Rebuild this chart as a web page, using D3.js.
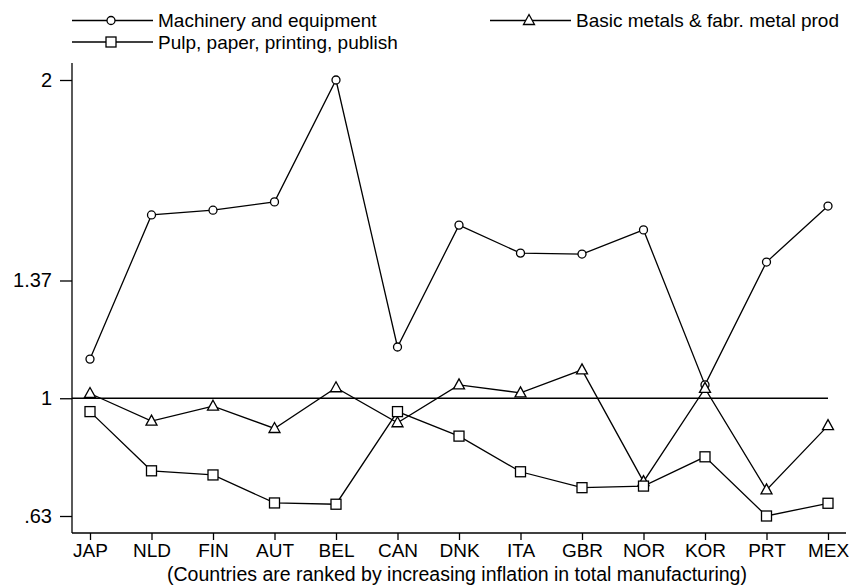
<!DOCTYPE html>
<html>
<head>
<meta charset="utf-8">
<script src="https://cdn.jsdelivr.net/npm/d3@7"></script>
<style>
  body { margin: 0; background: #fff; }
  text { font-family: "Liberation Sans", Arial, sans-serif; fill: #000; }
</style>
</head>
<body>
<div id="chart"></div>
<script>
// countries, ranked by increasing inflation in total manufacturing
var countries = ["JAP", "NLD", "FIN", "AUT", "BEL", "CAN", "DNK", "ITA", "GBR", "NOR", "KOR", "PRT", "MEX"];
var machinery = [1.123, 1.576, 1.591, 1.617, 2.0, 1.161, 1.544, 1.456, 1.453, 1.529, 1.042, 1.428, 1.604];
var basicMetals = [1.015, 0.928, 0.975, 0.905, 1.033, 0.923, 1.042, 1.017, 1.089, 0.738, 1.031, 0.712, 0.914];
var pulpPaper = [0.958, 0.772, 0.759, 0.671, 0.667, 0.958, 0.881, 0.769, 0.719, 0.724, 0.816, 0.630, 0.670];
var yTicks = [0.63, 1, 1.37, 2];
var yTickLabels = [".63", "1", "1.37", "2"];
var caption = "(Countries are ranked by increasing inflation in total manufacturing)";

var series = [
  { name: "Machinery and equipment", values: machinery, symbol: "circle" },
  { name: "Basic metals & fabr. metal prod", values: basicMetals, symbol: "triangle" },
  { name: "Pulp, paper, printing, publish", values: pulpPaper, symbol: "square" }
];

var svgWidth = 852, svgHeight = 585;
var margin = { top: 63, right: 6, bottom: 52, left: 72 };
var fontSize = 19.5;

var svg = d3.select("#chart").append("svg")
    .attr("width", svgWidth)
    .attr("height", svgHeight);

var x = d3.scalePoint()
    .domain(countries)
    .range([90, 828]);

var y = d3.scaleLinear()
    .domain([0.63, 2])
    .range([516, 80]);

// axes
svg.append("line")
    .attr("x1", margin.left).attr("x2", margin.left)
    .attr("y1", margin.top).attr("y2", svgHeight - margin.bottom)
    .attr("stroke", "#000").attr("stroke-width", 1.3);
svg.append("line")
    .attr("x1", margin.left).attr("x2", svgWidth - margin.right)
    .attr("y1", svgHeight - margin.bottom).attr("y2", svgHeight - margin.bottom)
    .attr("stroke", "#000").attr("stroke-width", 1.3);

var yAxis = d3.axisLeft(y)
    .tickValues(yTicks)
    .tickFormat(function(d, i) { return yTickLabels[i]; })
    .tickSize(12)
    .tickPadding(8);
var gy = svg.append("g")
    .attr("transform", "translate(" + margin.left + ",0)")
    .call(yAxis);
gy.select(".domain").remove();
gy.selectAll(".tick line").attr("stroke", "#000").attr("stroke-width", 1.3);
gy.selectAll(".tick text").attr("font-size", 20).attr("font-family", "Liberation Sans, Arial, sans-serif");

var xAxis = d3.axisBottom(x)
    .tickSize(7)
    .tickPadding(4);
var gx = svg.append("g")
    .attr("transform", "translate(0," + (svgHeight - margin.bottom) + ")")
    .call(xAxis);
gx.select(".domain").remove();
gx.selectAll(".tick line").attr("stroke", "#000").attr("stroke-width", 1.3);
gx.selectAll(".tick text").attr("font-size", 19).attr("font-family", "Liberation Sans, Arial, sans-serif");

svg.append("text")
    .attr("x", 457)
    .attr("y", 581)
    .attr("text-anchor", "middle")
    .attr("font-size", fontSize)
    .text(caption);

// reference line at 1
svg.append("line")
    .attr("x1", margin.left).attr("x2", x(countries[countries.length - 1]))
    .attr("y1", y(1)).attr("y2", y(1))
    .attr("stroke", "#000").attr("stroke-width", 1.3);

function drawSymbol(g, symbol, cx, cy) {
  if (symbol == "circle") {
    g.append("circle").attr("cx", cx).attr("cy", cy).attr("r", 4)
      .attr("fill", "#fff").attr("stroke", "#000").attr("stroke-width", 1.3);
  }
  if (symbol == "square") {
    g.append("rect").attr("x", cx - 5).attr("y", cy - 5).attr("width", 10).attr("height", 10)
      .attr("fill", "#fff").attr("stroke", "#000").attr("stroke-width", 1.3);
  }
  if (symbol == "triangle") {
    g.append("path")
      .attr("d", "M" + cx + "," + (cy - 6) + "L" + (cx + 5.5) + "," + (cy + 4) + "L" + (cx - 5.5) + "," + (cy + 4) + "Z")
      .attr("fill", "#fff").attr("stroke", "#000").attr("stroke-width", 1.3);
  }
}

var line = d3.line()
    .x(function(d, i) { return x(countries[i]); })
    .y(function(d) { return y(d); });

series.forEach(function(s) {
  svg.append("path")
      .datum(s.values)
      .attr("d", line)
      .attr("fill", "none")
      .attr("stroke", "#000")
      .attr("stroke-width", 1.3);
});
series.forEach(function(s) {
  var g = svg.append("g");
  s.values.forEach(function(v, i) {
    drawSymbol(g, s.symbol, x(countries[i]), y(v));
  });
});

// legend, two columns
var legendPos = [
  { x: 72, y: 20.5 },
  { x: 490, y: 20.5 },
  { x: 72, y: 42 }
];
series.forEach(function(s, i) {
  var p = legendPos[i];
  var g = svg.append("g").attr("transform", "translate(" + p.x + "," + p.y + ")");
  g.append("line").attr("x1", 0).attr("x2", 81).attr("y1", 0).attr("y2", 0)
    .attr("stroke", "#000").attr("stroke-width", 1.3);
  drawSymbol(g, s.symbol, 39, 0);
  g.append("text").attr("x", 86).attr("y", 6.5).attr("font-size", 19).text(s.name);
});
</script>
</body>
</html>
